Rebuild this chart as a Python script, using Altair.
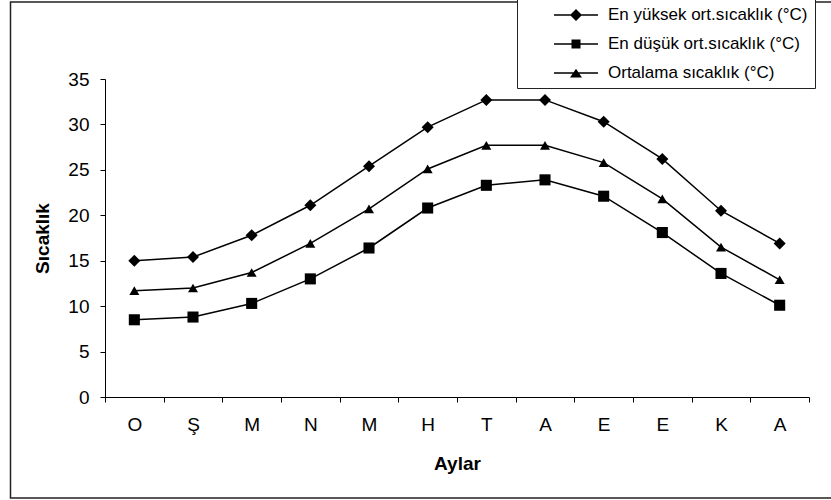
import altair as alt
import pandas as pd

months = ["Ocak", "Şubat", "Mart", "Nisan", "Mayıs", "Haziran",
          "Temmuz", "Ağustos", "Eylül", "Ekim", "Kasım", "Aralık"]
month_labels = ["O", "Ş", "M", "N", "M", "H", "T", "A", "E", "E", "K", "A"]
series_names = ["En yüksek ort.sıcaklık (°C)",
                "En düşük ort.sıcaklık (°C)",
                "Ortalama sıcaklık (°C)"]
max_t = [15.0, 15.4, 17.8, 21.1, 25.4, 29.7, 32.7, 32.7, 30.3, 26.2, 20.5, 16.9]
min_t = [8.5, 8.8, 10.3, 13.0, 16.4, 20.8, 23.3, 23.9, 22.1, 18.1, 13.6, 10.1]
avg_t = [11.7, 12.0, 13.7, 16.9, 20.7, 25.1, 27.7, 27.7, 25.8, 21.8, 16.5, 12.9]
y_ticks = [0, 5, 10, 15, 20, 25, 30, 35]

rows = []
for s, vals in zip(series_names, [max_t, min_t, avg_t]):
    for m, v in zip(months, vals):
        rows.append({"Ay": m, "Seri": s, "Deger": v})
df = pd.DataFrame(rows)

label_expr = " : ".join(
    f"datum.value == '{m}' ? '{l}'" for m, l in zip(months, month_labels)
) + " : ''"

FONT = "Liberation Sans"
FS = 19

x_enc = alt.X(
    "Ay:N", sort=months,
    scale=alt.Scale(type="band", paddingInner=0, paddingOuter=0),
    axis=alt.Axis(title="Aylar", labelExpr=label_expr, labelAngle=0,
                  tickBand="extent", tickSize=5, labelPadding=13,
                  titleY=66, titleBaseline="middle"),
)
y_enc = alt.Y(
    "Deger:Q",
    scale=alt.Scale(domain=[0, 35], nice=False),
    axis=alt.Axis(title="Sıcaklık", values=y_ticks, grid=False, tickSize=5,
                  labelPadding=11, titleX=-63, titleY=159, titleAngle=-90,
                  titleBaseline="middle", titleAlign="center"),
)

frame = alt.Chart(alt.Data(values=[{}])).mark_rect(
    fillOpacity=0, stroke="#222222", strokeWidth=1.5
).encode(
    x=alt.value(-94.5), x2=alt.value(745), y=alt.value(-77), y2=alt.value(419)
)

lines = alt.Chart(df).mark_line(color="black", strokeWidth=1.5).encode(
    x=x_enc, y=y_enc, detail="Seri:N"
)

points = alt.Chart(df).mark_point(filled=True, color="black", opacity=1).encode(
    x=x_enc, y=y_enc,
    shape=alt.Shape("Seri:N", scale=alt.Scale(domain=series_names,
                    range=["diamond", "square", "triangle-up"]), legend=None),
    size=alt.Size("Seri:N", scale=alt.Scale(domain=series_names,
                  range=[145, 100, 160]), legend=None),
)

# legend symbol: thin filled bar for the line plus the marker
line_seg = "M2,-0.07L6.4,-0.07L6.4,0.07L2,0.07Z"
legend_paths = [
    line_seg + "M4.2,-0.6L4.8,0L4.2,0.6L3.6,0Z",
    line_seg + "M3.75,-0.45L4.65,-0.45L4.65,0.45L3.75,0.45Z",
    line_seg + "M4.2,-0.42L4.8,0.45L3.6,0.45Z",
]

ghost = alt.Chart(df).transform_filter("false").mark_point(
    filled=True, color="black"
).encode(
    x=x_enc, y=y_enc,
    shape=alt.Shape("Seri:N", scale=alt.Scale(domain=series_names, range=legend_paths),
                    legend=alt.Legend(
                        title=None, orient="none", legendX=412, legendY=-81,
                        direction="vertical", symbolSize=400, symbolStrokeWidth=0,
                        symbolFillColor="black", symbolOpacity=1,
                        labelFont=FONT, labelFontSize=17, labelColor="black",
                        labelOffset=64, labelLimit=500, rowPadding=11, padding=7,
                        strokeColor="#222222", fillColor="white",
                        labelExpr="datum.label + '          '",
                    )),
)

chart = alt.layer(frame, lines, points, ghost).resolve_scale(
    shape="independent", size="independent"
).properties(
    width=704, height=318,
    autosize=alt.AutoSizeParams(type="none"),
    padding={"left": 105, "top": 79, "right": 22, "bottom": 103},
    background="white",
).configure_view(stroke=None).configure_axis(
    domainColor="black", tickColor="black", labelColor="black", titleColor="black",
    labelFont=FONT, titleFont=FONT, labelFontSize=FS, titleFontSize=FS,
    titleFontWeight="bold", labelFontWeight="normal",
)

chart.save("out.html", embed_options={"renderer": "svg", "actions": False})
